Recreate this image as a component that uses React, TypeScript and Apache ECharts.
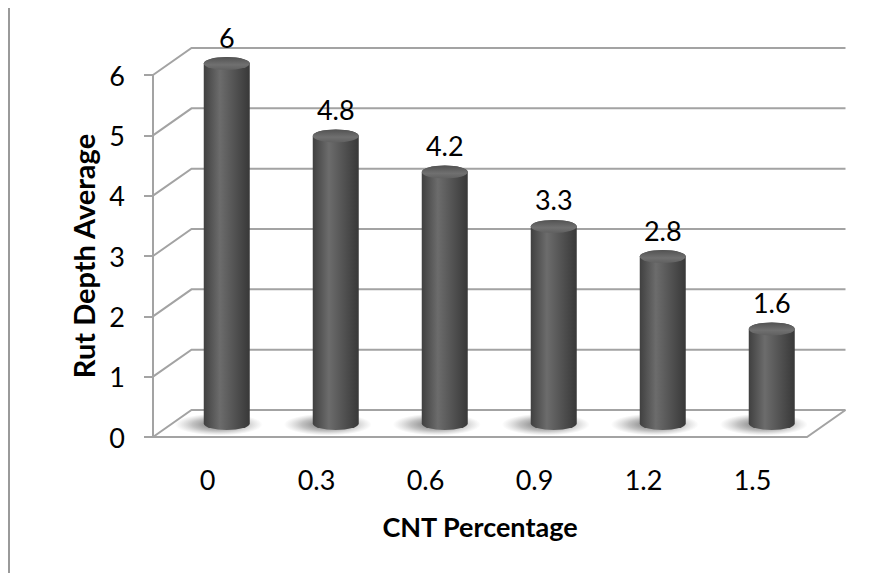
import React, { useEffect, useRef } from "react";
import * as echarts from "echarts";

const categories = ["0", "0.3", "0.6", "0.9", "1.2", "1.5"];
const rutDepth = [6, 4.8, 4.2, 3.3, 2.8, 1.6];
const yTicks = [0, 1, 2, 3, 4, 5, 6];

const DX = 38.5;
const DY = -27;
const HALF_W = 23;
const RY = 6.5;
const FONT = "Lato, 'Open Sans', sans-serif";
const GRID_COLOR = "#a3a3a3";

export default function App() {
  const ref = useRef<HTMLDivElement>(null);
  useEffect(() => {
    if (!ref.current) return;
    const chart = echarts.init(ref.current, undefined, { renderer: "svg" });

    const wallItem = (params: any, api: any) => {
      const cs = params.coordSys;
      const v = api.value(0);
      const y = api.coord([0, v])[1];
      const x0 = cs.x;
      const x1 = cs.x + cs.width;
      const style = { stroke: GRID_COLOR, lineWidth: 2, fill: null };
      const children: any[] = [
        {
          type: "polyline",
          shape: { points: [[x0, y], [x0 + DX, y + DY], [x1 + DX, y + DY]] },
          style,
        },
      ];
      if (v === 0) {
        children.push({
          type: "polyline",
          shape: { points: [[x0, y], [x1, y], [x1 + DX, y + DY]] },
          style,
        });
      }
      return { type: "group", children };
    };

    const ellipsePath = (cx: number, cy: number, rx: number, ry: number) =>
      `M${cx - rx} ${cy} A${rx} ${ry} 0 1 0 ${cx + rx} ${cy} A${rx} ${ry} 0 1 0 ${cx - rx} ${cy} Z`;

    const barItem = (params: any, api: any) => {
      const i = api.value(0);
      const v = api.value(1);
      const top = api.coord([i, v]);
      const base = api.coord([i, 0]);
      const cx = top[0] + DX / 2;
      const ty = top[1] + DY / 2 + 2;
      const by = base[1] + DY / 2;
      const l = cx - HALF_W;
      const r = cx + HALF_W;
      const body = `M${l} ${ty} L${l} ${by} A${HALF_W} ${RY} 0 0 0 ${r} ${by} L${r} ${ty} A${HALF_W} ${RY} 0 0 0 ${l} ${ty} Z`;
      return {
        type: "group",
        children: [
          {
            type: "path",
            shape: { pathData: ellipsePath(cx - 8, by + 1, 44, 11) },
            style: {
              fill: new echarts.graphic.RadialGradient(0.5, 0.5, 0.5, [
                { offset: 0, color: "rgba(50,50,50,0.75)" },
                { offset: 0.6, color: "rgba(80,80,80,0.35)" },
                { offset: 1, color: "rgba(120,120,120,0)" },
              ]),
            },
          },
          {
            type: "path",
            shape: { pathData: body },
            style: {
              fill: new echarts.graphic.LinearGradient(0, 0, 1, 0, [
                { offset: 0, color: "#404040" },
                { offset: 0.35, color: "#6c6c6c" },
                { offset: 0.55, color: "#5c5c5c" },
                { offset: 1, color: "#383838" },
              ]),
            },
          },
          {
            type: "path",
            shape: { pathData: ellipsePath(cx, ty, HALF_W, RY) },
            style: {
              fill: new echarts.graphic.LinearGradient(0, 0, 0, 1, [
                { offset: 0, color: "#525252" },
                { offset: 0.6, color: "#707070" },
                { offset: 1, color: "#606060" },
              ]),
            },
          },
          {
            type: "text",
            style: {
              x: cx,
              y: ty - RY - 20,
              text: String(v),
              fill: "#000",
              font: `27px ${FONT}`,
              align: "center",
              verticalAlign: "middle",
            },
          },
        ],
      };
    };

    chart.setOption({
      animation: false,
      backgroundColor: "#ffffff",
      graphic: [
        {
          type: "rect",
          shape: { x: 9, y: 5, width: 900, height: 600 },
          style: { fill: null, stroke: "#9a9a9a", lineWidth: 2 },
          silent: true,
        },
      ],
      grid: { left: 153, right: 79, top: 75, bottom: 144 },
      xAxis: {
        type: "category",
        data: categories,
        axisLine: { show: false },
        axisTick: { show: false },
        axisLabel: { color: "#000", fontFamily: FONT, fontSize: 27, margin: 29 },
        name: "CNT Percentage",
        nameLocation: "middle",
        nameGap: 76,
        nameTextStyle: { color: "#000", fontFamily: FONT, fontSize: 27, fontWeight: "bold" },
      },
      yAxis: {
        type: "value",
        min: 0,
        max: 6,
        interval: 1,
        splitLine: { show: false },
        axisLine: { show: true, lineStyle: { color: GRID_COLOR, width: 2 } },
        axisTick: { show: true, length: 9, lineStyle: { color: GRID_COLOR, width: 2 } },
        axisLabel: { color: "#000", fontFamily: FONT, fontSize: 27, margin: 28 },
        name: "Rut Depth Average",
        nameLocation: "middle",
        nameGap: 55,
        nameTextStyle: { color: "#000", fontFamily: FONT, fontSize: 29, fontWeight: "bold" },
      },
      series: [
        {
          type: "custom",
          z: 1,
          silent: true,
          renderItem: wallItem,
          data: yTicks.map((t) => [t]),
          encode: { y: 0 },
        },
        {
          type: "custom",
          z: 2,
          silent: true,
          renderItem: barItem,
          data: rutDepth.map((v, i) => [i, v]),
          encode: { x: 0, y: 1 },
        },
      ],
    });
    return () => chart.dispose();
  }, []);
  return <div ref={ref} style={{ width: 886, height: 581, margin: -8 }} />;
}
